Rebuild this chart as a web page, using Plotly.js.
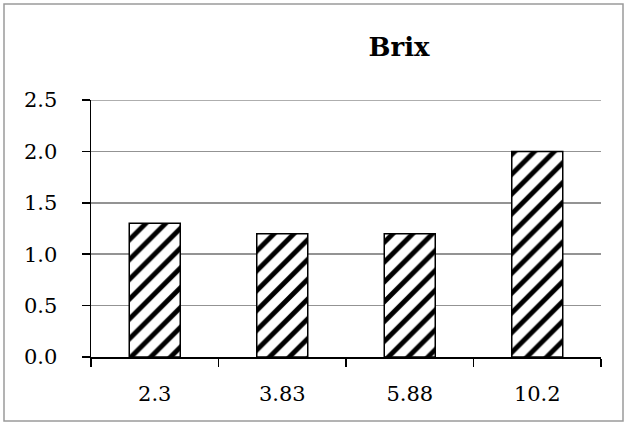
<!DOCTYPE html>
<html>
<head>
<meta charset="utf-8">
<script src="https://cdn.plot.ly/plotly-3.0.1.min.js"></script>
<style>
html,body{margin:0;padding:0;background:#fff;}
#chart{width:627px;height:425px;}
</style>
</head>
<body>
<div id="chart"></div>
<script>
const categories = ["2.3", "3.83", "5.88", "10.2"];
const brixValues = [1.3, 1.2, 1.2, 2.0];
const yTickVals = [0, 0.5, 1.0, 1.5, 2.0, 2.5];
const titleText = "Brix";

const W = 627, H = 425;
const M = {l: 91, r: 26, t: 100, b: 68};
const pw = W - M.l - M.r, ph = H - M.t - M.b;
function px2x(p){ return (p - M.l) / pw; }
function py2y(p){ return (H - M.b - p) / ph; }

const fontFam = "DejaVu Serif, serif";
const tickSize = 21;

const trace = {
  type: "bar",
  x: categories,
  y: brixValues,
  width: 0.4,
  marker: {
    color: "#ffffff",
    line: {color: "#000000", width: 1.5},
    pattern: {shape: "/", fgcolor: "#000000", bgcolor: "#ffffff", size: 14, solidity: 0.35, fillmode: "replace"}
  },
  hoverinfo: "none",
  showlegend: false
};

const layout = {
  width: W, height: H,
  margin: M,
  paper_bgcolor: "#ffffff",
  plot_bgcolor: "#ffffff",
  font: {family: fontFam, size: tickSize, color: "#000"},
  title: {
    text: "<b>" + titleText + "</b>",
    font: {family: fontFam, size: 26, color: "#000"},
    x: 399 / W, xanchor: "center",
    y: 1 - 47 / H, yanchor: "middle"
  },
  xaxis: {
    type: "category",
    range: [-0.5, 3.5],
    showline: true, linecolor: "#000", linewidth: 1.5,
    ticks: "outside", tickson: "boundaries", ticklen: 8, tickwidth: 1.5, tickcolor: "#000",
    showgrid: false, zeroline: false,
    ticklabelstandoff: 17,
    tickfont: {family: fontFam, size: tickSize, color: "#000"},
    automargin: false
  },
  yaxis: {
    range: [0, 2.5],
    tickvals: yTickVals,
    ticktext: yTickVals.map(v => v.toFixed(1)),
    showline: true, linecolor: "#000", linewidth: 1.5,
    ticks: "outside", ticklen: 8, tickwidth: 1.5, tickcolor: "#000",
    showgrid: true, gridcolor: "#939393", gridwidth: 1.5,
    zeroline: false,
    ticklabelstandoff: 20,
    tickfont: {family: fontFam, size: tickSize, color: "#000"},
    automargin: false
  },
  shapes: [
    {
      type: "rect", xref: "paper", yref: "paper",
      x0: px2x(4), x1: px2x(623), y0: py2y(421), y1: py2y(4),
      line: {color: "#9a9a9a", width: 1.5}, fillcolor: "rgba(0,0,0,0)", layer: "below"
    },
    {
      type: "line", xref: "paper", yref: "y",
      x0: 0, x1: 1, y0: yTickVals[yTickVals.length - 1], y1: yTickVals[yTickVals.length - 1],
      line: {color: "#939393", width: 1.5}, layer: "below"
    }
  ]
};

Plotly.newPlot("chart", [trace], layout, {staticPlot: true, displayModeBar: false});
</script>
</body>
</html>
